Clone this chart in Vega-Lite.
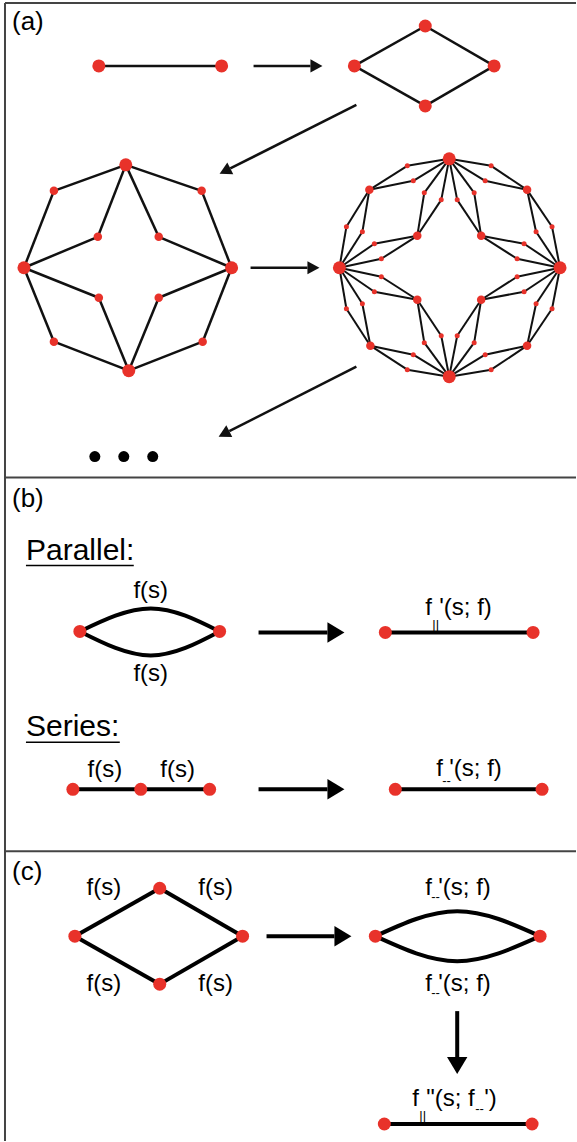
{
  "$schema": "https://vega.github.io/schema/vega-lite/v6.json",
  "width": 577,
  "height": 1142,
  "autosize": {"type": "fit", "contains": "padding"},
  "padding": 0,
  "background": "white",
  "config": {"view": {"stroke": null}},
  "datasets": {
    "frame": [
      {"x": 5, "y": 3, "x2": 577, "y2": 3},
      {"x": 5, "y": 3, "x2": 5, "y2": 1142},
      {"x": 5, "y": 478, "x2": 577, "y2": 478},
      {"x": 5, "y": 852, "x2": 577, "y2": 852}
    ],
    "edgesA": [
      {"x": 99, "y": 66, "x2": 222, "y2": 66},
      {"x": 355, "y": 66, "x2": 426, "y2": 26},
      {"x": 426, "y": 26, "x2": 495, "y2": 66},
      {"x": 355, "y": 66, "x2": 426, "y2": 106},
      {"x": 426, "y": 106, "x2": 495, "y2": 66},
      {"x": 126, "y": 165, "x2": 54, "y2": 191},
      {"x": 54, "y": 191, "x2": 24, "y2": 268},
      {"x": 126, "y": 165, "x2": 98, "y2": 237},
      {"x": 98, "y": 237, "x2": 24, "y2": 268},
      {"x": 126, "y": 165, "x2": 202, "y2": 191},
      {"x": 202, "y": 191, "x2": 232, "y2": 268},
      {"x": 126, "y": 165, "x2": 159, "y2": 237},
      {"x": 159, "y": 237, "x2": 232, "y2": 268},
      {"x": 24, "y": 268, "x2": 54, "y2": 342},
      {"x": 54, "y": 342, "x2": 129, "y2": 371},
      {"x": 24, "y": 268, "x2": 99, "y2": 298},
      {"x": 99, "y": 298, "x2": 129, "y2": 371},
      {"x": 232, "y": 268, "x2": 203, "y2": 342},
      {"x": 203, "y": 342, "x2": 129, "y2": 371},
      {"x": 232, "y": 268, "x2": 159, "y2": 298},
      {"x": 159, "y": 298, "x2": 129, "y2": 371}
    ],
    "edgesG3": [
      {"x": 450, "y": 159, "x2": 408, "y2": 166}, {"x": 408, "y": 166, "x2": 370, "y2": 190}, {"x": 450, "y": 159, "x2": 414, "y2": 181}, {"x": 414, "y": 181, "x2": 370, "y2": 190},
      {"x": 450, "y": 159, "x2": 425, "y2": 193}, {"x": 425, "y": 193, "x2": 418, "y2": 236}, {"x": 450, "y": 159, "x2": 442, "y2": 200}, {"x": 442, "y": 200, "x2": 418, "y2": 236},
      {"x": 450, "y": 159, "x2": 492, "y2": 166}, {"x": 492, "y": 166, "x2": 528, "y2": 190}, {"x": 450, "y": 159, "x2": 486, "y2": 181}, {"x": 486, "y": 181, "x2": 528, "y2": 190},
      {"x": 450, "y": 159, "x2": 475, "y2": 193}, {"x": 475, "y": 193, "x2": 482, "y2": 236}, {"x": 450, "y": 159, "x2": 458, "y2": 200}, {"x": 458, "y": 200, "x2": 482, "y2": 236},
      {"x": 340, "y": 268, "x2": 347, "y2": 227}, {"x": 347, "y": 227, "x2": 370, "y2": 190}, {"x": 340, "y": 268, "x2": 363, "y2": 232}, {"x": 363, "y": 232, "x2": 370, "y2": 190},
      {"x": 340, "y": 268, "x2": 375, "y2": 244}, {"x": 375, "y": 244, "x2": 418, "y2": 236}, {"x": 340, "y": 268, "x2": 382, "y2": 259}, {"x": 382, "y": 259, "x2": 418, "y2": 236},
      {"x": 340, "y": 268, "x2": 347, "y2": 309}, {"x": 347, "y": 309, "x2": 371, "y2": 346}, {"x": 340, "y": 268, "x2": 363, "y2": 304}, {"x": 363, "y": 304, "x2": 371, "y2": 346},
      {"x": 340, "y": 268, "x2": 375, "y2": 292}, {"x": 375, "y": 292, "x2": 418, "y2": 300}, {"x": 340, "y": 268, "x2": 382, "y2": 277}, {"x": 382, "y": 277, "x2": 418, "y2": 300},
      {"x": 561, "y": 268, "x2": 553, "y2": 227}, {"x": 553, "y": 227, "x2": 528, "y2": 190}, {"x": 561, "y": 268, "x2": 537, "y2": 232}, {"x": 537, "y": 232, "x2": 528, "y2": 190},
      {"x": 561, "y": 268, "x2": 525, "y2": 244}, {"x": 525, "y": 244, "x2": 482, "y2": 236}, {"x": 561, "y": 268, "x2": 518, "y2": 259}, {"x": 518, "y": 259, "x2": 482, "y2": 236},
      {"x": 561, "y": 268, "x2": 553, "y2": 309}, {"x": 553, "y": 309, "x2": 528, "y2": 346}, {"x": 561, "y": 268, "x2": 537, "y2": 304}, {"x": 537, "y": 304, "x2": 528, "y2": 346},
      {"x": 561, "y": 268, "x2": 525, "y2": 292}, {"x": 525, "y": 292, "x2": 482, "y2": 300}, {"x": 561, "y": 268, "x2": 518, "y2": 277}, {"x": 518, "y": 277, "x2": 482, "y2": 300},
      {"x": 450, "y": 377, "x2": 408, "y2": 370}, {"x": 408, "y": 370, "x2": 371, "y2": 346}, {"x": 450, "y": 377, "x2": 414, "y2": 355}, {"x": 414, "y": 355, "x2": 371, "y2": 346},
      {"x": 450, "y": 377, "x2": 425, "y2": 343}, {"x": 425, "y": 343, "x2": 418, "y2": 300}, {"x": 450, "y": 377, "x2": 442, "y2": 336}, {"x": 442, "y": 336, "x2": 418, "y2": 300},
      {"x": 450, "y": 377, "x2": 492, "y2": 370}, {"x": 492, "y": 370, "x2": 528, "y2": 346}, {"x": 450, "y": 377, "x2": 486, "y2": 355}, {"x": 486, "y": 355, "x2": 528, "y2": 346},
      {"x": 450, "y": 377, "x2": 475, "y2": 343}, {"x": 475, "y": 343, "x2": 482, "y2": 300}, {"x": 450, "y": 377, "x2": 458, "y2": 336}, {"x": 458, "y": 336, "x2": 482, "y2": 300}
    ],
    "edgesBC": [
      {"x": 386, "y": 633, "x2": 534, "y2": 633},
      {"x": 73, "y": 790, "x2": 141, "y2": 790},
      {"x": 141, "y": 790, "x2": 210, "y2": 790},
      {"x": 396, "y": 790, "x2": 543, "y2": 790},
      {"x": 75, "y": 937, "x2": 160, "y2": 889},
      {"x": 160, "y": 889, "x2": 243, "y2": 937},
      {"x": 75, "y": 937, "x2": 160, "y2": 985},
      {"x": 160, "y": 985, "x2": 243, "y2": 937},
      {"x": 385, "y": 1125, "x2": 533, "y2": 1125}
    ],
    "curves": [
      {"curve": "p-top", "i": 0, "x": 80, "y": 632},
      {"curve": "p-top", "i": 1, "x": 151, "y": 609},
      {"curve": "p-top", "i": 2, "x": 220, "y": 632},
      {"curve": "p-bot", "i": 0, "x": 80, "y": 632},
      {"curve": "p-bot", "i": 1, "x": 151, "y": 656},
      {"curve": "p-bot", "i": 2, "x": 220, "y": 632},
      {"curve": "c-top", "i": 0, "x": 376, "y": 937},
      {"curve": "c-top", "i": 1, "x": 458, "y": 912},
      {"curve": "c-top", "i": 2, "x": 541, "y": 937},
      {"curve": "c-bot", "i": 0, "x": 376, "y": 937},
      {"curve": "c-bot", "i": 1, "x": 458, "y": 962},
      {"curve": "c-bot", "i": 2, "x": 541, "y": 937}
    ],
    "arrowsThin": [
      {"x": 254, "y": 66, "x2": 311, "y2": 66},
      {"x": 357, "y": 105, "x2": 230.7, "y2": 168.6},
      {"x": 251, "y": 268, "x2": 308, "y2": 268},
      {"x": 357, "y": 367, "x2": 229.7, "y2": 431.6}
    ],
    "arrowsThick": [
      {"x": 259, "y": 633, "x2": 328, "y2": 633},
      {"x": 259, "y": 790, "x2": 328, "y2": 790},
      {"x": 267, "y": 937, "x2": 335, "y2": 937},
      {"x": 458, "y": 1012, "x2": 458, "y2": 1058}
    ],
    "dotsBig": [
      {"x": 99, "y": 66}, {"x": 222, "y": 66},
      {"x": 355, "y": 66}, {"x": 426, "y": 26}, {"x": 495, "y": 66}, {"x": 426, "y": 106},
      {"x": 126, "y": 165}, {"x": 24, "y": 268}, {"x": 232, "y": 268}, {"x": 129, "y": 371},
      {"x": 450, "y": 159}, {"x": 340, "y": 268}, {"x": 561, "y": 268}, {"x": 450, "y": 377},
      {"x": 80, "y": 632}, {"x": 220, "y": 632}, {"x": 386, "y": 633}, {"x": 534, "y": 633},
      {"x": 73, "y": 790}, {"x": 141, "y": 790}, {"x": 210, "y": 790}, {"x": 396, "y": 790}, {"x": 543, "y": 790},
      {"x": 75, "y": 937}, {"x": 160, "y": 889}, {"x": 243, "y": 937}, {"x": 160, "y": 985},
      {"x": 376, "y": 937}, {"x": 541, "y": 937},
      {"x": 385, "y": 1125}, {"x": 533, "y": 1125}
    ],
    "dotsMid": [
      {"x": 54, "y": 191}, {"x": 202, "y": 191}, {"x": 54, "y": 342}, {"x": 203, "y": 342},
      {"x": 98, "y": 237}, {"x": 159, "y": 237}, {"x": 99, "y": 298}, {"x": 159, "y": 298},
      {"x": 370, "y": 190}, {"x": 528, "y": 190}, {"x": 371, "y": 346}, {"x": 528, "y": 346},
      {"x": 418, "y": 236}, {"x": 482, "y": 236}, {"x": 418, "y": 300}, {"x": 482, "y": 300}
    ],
    "dotsSmall": [
      {"x": 408, "y": 166}, {"x": 414, "y": 181}, {"x": 425, "y": 193}, {"x": 442, "y": 200},
      {"x": 492, "y": 166}, {"x": 486, "y": 181}, {"x": 475, "y": 193}, {"x": 458, "y": 200},
      {"x": 347, "y": 227}, {"x": 363, "y": 232}, {"x": 375, "y": 244}, {"x": 382, "y": 259},
      {"x": 347, "y": 309}, {"x": 363, "y": 304}, {"x": 375, "y": 292}, {"x": 382, "y": 277},
      {"x": 553, "y": 227}, {"x": 537, "y": 232}, {"x": 525, "y": 244}, {"x": 518, "y": 259},
      {"x": 553, "y": 309}, {"x": 537, "y": 304}, {"x": 525, "y": 292}, {"x": 518, "y": 277},
      {"x": 408, "y": 370}, {"x": 414, "y": 355}, {"x": 425, "y": 343}, {"x": 442, "y": 336},
      {"x": 492, "y": 370}, {"x": 486, "y": 355}, {"x": 475, "y": 343}, {"x": 458, "y": 336}
    ],
    "ellipsis": [
      {"x": 95, "y": 457}, {"x": 124, "y": 457}, {"x": 153, "y": 457}
    ],
    "panelLabels": [
      {"t": "(a)", "x": 12, "y": 30},
      {"t": "(b)", "x": 12, "y": 507},
      {"t": "(c)", "x": 12, "y": 881}
    ],
    "headers": [
      {"t": "Parallel:", "x": 26, "y": 560},
      {"t": "Series:", "x": 26, "y": 737}
    ],
    "underlines": [
      {"x": 26, "y": 566, "x2": 134, "y2": 566},
      {"x": 26, "y": 743, "x2": 120, "y2": 743}
    ],
    "fsLabels": [
      {"t": "f(s)", "x": 151, "y": 599},
      {"t": "f(s)", "x": 151, "y": 682},
      {"t": "f(s)", "x": 105, "y": 778},
      {"t": "f(s)", "x": 178, "y": 778},
      {"t": "f(s)", "x": 104, "y": 896},
      {"t": "f(s)", "x": 216, "y": 896},
      {"t": "f(s)", "x": 104, "y": 992},
      {"t": "f(s)", "x": 216, "y": 992}
    ],
    "formula": [
      {"t": "f", "x": 426, "y": 616},
      {"t": "'(s; f)", "x": 440, "y": 616},
      {"t": "f", "x": 437, "y": 777},
      {"t": "'(s; f)", "x": 450, "y": 777},
      {"t": "f", "x": 426, "y": 896},
      {"t": "'(s; f)", "x": 439, "y": 896},
      {"t": "f", "x": 426, "y": 992},
      {"t": "'(s; f)", "x": 439, "y": 992},
      {"t": "f", "x": 413, "y": 1107},
      {"t": "\"(s; f", "x": 427, "y": 1107},
      {"t": "')", "x": 485, "y": 1107}
    ],
    "subscripts": [
      {"t": "||", "x": 433, "y": 630},
      {"t": "--", "x": 443, "y": 786},
      {"t": "--", "x": 432, "y": 902},
      {"t": "--", "x": 432, "y": 998},
      {"t": "||", "x": 420, "y": 1121},
      {"t": "--", "x": 476, "y": 1114}
    ]
  },
  "encoding": {
    "x": {"field": "x", "type": "quantitative", "scale": {"domain": [0, 577], "nice": false, "zero": false}, "axis": null},
    "y": {"field": "y", "type": "quantitative", "scale": {"domain": [0, 1142], "nice": false, "zero": false, "reverse": true}, "axis": null}
  },
  "layer": [
    {
      "data": {"name": "frame"},
      "mark": {"type": "rule", "color": "#444444", "strokeWidth": 2},
      "encoding": {"x2": {"field": "x2"}, "y2": {"field": "y2"}}
    },
    {
      "data": {"name": "edgesA"},
      "mark": {"type": "rule", "color": "#111111", "strokeWidth": 2.5},
      "encoding": {"x2": {"field": "x2"}, "y2": {"field": "y2"}}
    },
    {
      "data": {"name": "edgesG3"},
      "mark": {"type": "rule", "color": "#111111", "strokeWidth": 2},
      "encoding": {"x2": {"field": "x2"}, "y2": {"field": "y2"}}
    },
    {
      "data": {"name": "edgesBC"},
      "mark": {"type": "rule", "color": "#000000", "strokeWidth": 4},
      "encoding": {"x2": {"field": "x2"}, "y2": {"field": "y2"}}
    },
    {
      "data": {"name": "underlines"},
      "mark": {"type": "rule", "color": "#000000", "strokeWidth": 1.5},
      "encoding": {"x2": {"field": "x2"}, "y2": {"field": "y2"}}
    },
    {
      "data": {"name": "curves"},
      "mark": {"type": "line", "interpolate": "natural", "color": "#000000", "strokeWidth": 4},
      "encoding": {"detail": {"field": "curve"}, "order": {"field": "i", "type": "quantitative"}}
    },
    {
      "data": {"name": "arrowsThin"},
      "mark": {"type": "rule", "color": "#111111", "strokeWidth": 2.5},
      "encoding": {"x2": {"field": "x2"}, "y2": {"field": "y2"}}
    },
    {
      "data": {"name": "arrowsThin"},
      "transform": [{"calculate": "atan2(datum.y2 - datum.y, datum.x2 - datum.x) * 180 / PI", "as": "ang"}],
      "mark": {"type": "point", "shape": "M0,-0.55L1,0L0,0.55Z", "size": 576, "filled": true, "color": "#111111", "opacity": 1, "strokeWidth": 0},
      "encoding": {
        "x": {"field": "x2", "type": "quantitative"},
        "y": {"field": "y2", "type": "quantitative"},
        "angle": {"field": "ang", "type": "quantitative", "scale": null}
      }
    },
    {
      "data": {"name": "arrowsThick"},
      "mark": {"type": "rule", "color": "#000000", "strokeWidth": 4},
      "encoding": {"x2": {"field": "x2"}, "y2": {"field": "y2"}}
    },
    {
      "data": {"name": "arrowsThick"},
      "transform": [{"calculate": "atan2(datum.y2 - datum.y, datum.x2 - datum.x) * 180 / PI", "as": "ang"}],
      "mark": {"type": "point", "shape": "M0,-0.6L1,0L0,0.6Z", "size": 1156, "filled": true, "color": "#000000", "opacity": 1, "strokeWidth": 0},
      "encoding": {
        "x": {"field": "x2", "type": "quantitative"},
        "y": {"field": "y2", "type": "quantitative"},
        "angle": {"field": "ang", "type": "quantitative", "scale": null}
      }
    },
    {
      "data": {"name": "dotsBig"},
      "mark": {"type": "point", "shape": "circle", "size": 169, "filled": true, "color": "#e8322a", "opacity": 1, "strokeWidth": 0}
    },
    {
      "data": {"name": "dotsMid"},
      "mark": {"type": "point", "shape": "circle", "size": 72, "filled": true, "color": "#e8322a", "opacity": 1, "strokeWidth": 0}
    },
    {
      "data": {"name": "dotsSmall"},
      "mark": {"type": "point", "shape": "circle", "size": 25, "filled": true, "color": "#e8322a", "opacity": 1, "strokeWidth": 0}
    },
    {
      "data": {"name": "ellipsis"},
      "mark": {"type": "point", "shape": "circle", "size": 121, "filled": true, "color": "#000000", "opacity": 1, "strokeWidth": 0}
    },
    {
      "data": {"name": "panelLabels"},
      "mark": {"type": "text", "align": "left", "baseline": "alphabetic", "font": "Liberation Sans", "fontSize": 26, "color": "#000000"},
      "encoding": {"text": {"field": "t"}}
    },
    {
      "data": {"name": "headers"},
      "mark": {"type": "text", "align": "left", "baseline": "alphabetic", "font": "Liberation Sans", "fontSize": 30, "color": "#000000"},
      "encoding": {"text": {"field": "t"}}
    },
    {
      "data": {"name": "fsLabels"},
      "mark": {"type": "text", "align": "center", "baseline": "alphabetic", "font": "Liberation Sans", "fontSize": 24, "color": "#000000"},
      "encoding": {"text": {"field": "t"}}
    },
    {
      "data": {"name": "formula"},
      "mark": {"type": "text", "align": "left", "baseline": "alphabetic", "font": "Liberation Sans", "fontSize": 24, "color": "#000000"},
      "encoding": {"text": {"field": "t"}}
    },
    {
      "data": {"name": "subscripts"},
      "mark": {"type": "text", "align": "left", "baseline": "alphabetic", "font": "Liberation Sans", "fontSize": 13, "color": "#000000"},
      "encoding": {"text": {"field": "t"}}
    }
  ]
}
